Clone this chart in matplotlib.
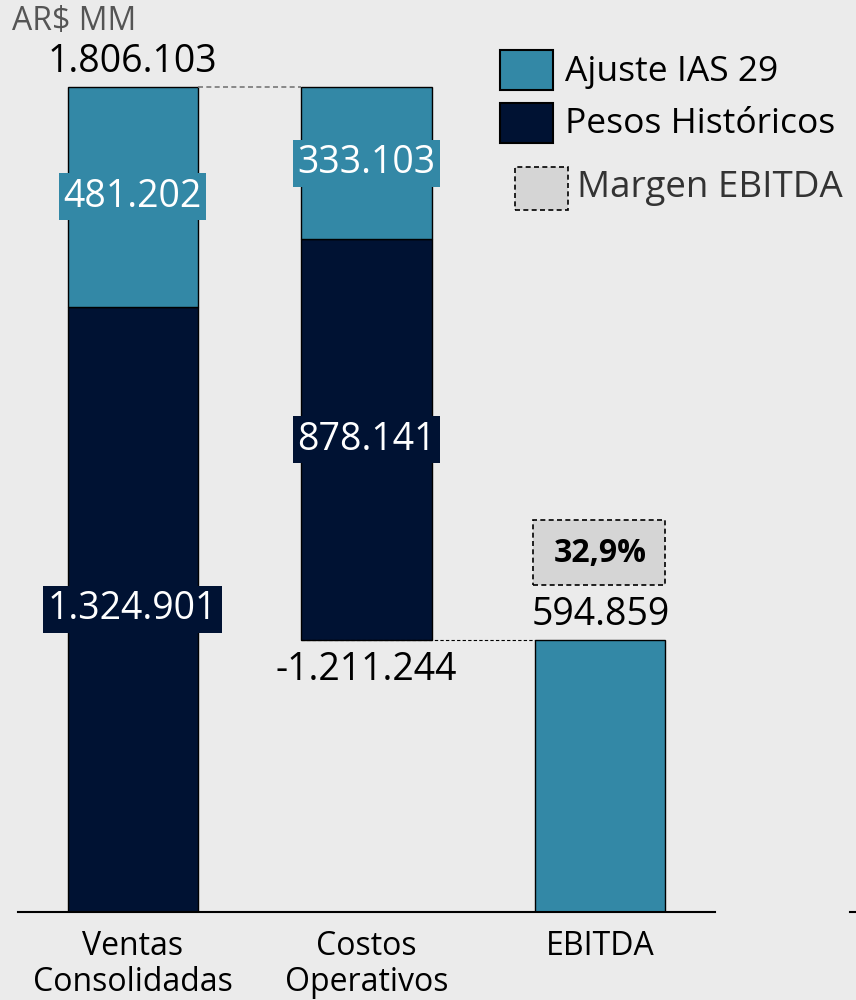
import matplotlib.pyplot as plt
from matplotlib.patches import Rectangle
from matplotlib.lines import Line2D

categorias = ["Ventas\nConsolidadas", "Costos\nOperativos", "EBITDA"]
pesos_historicos = [1324901, 878141, 0]
ajuste_ias29 = [481202, 333103, 594859]
base = [0, 594859, 0]
etiqueta_total = ["1.806.103", "-1.211.244", "594.859"]
etiqueta_hist = ["1.324.901", "878.141", None]
etiqueta_ajuste = ["481.202", "333.103", None]
margen_ebitda = "32,9%"

TEAL = "#3388a6"
NAVY = "#001233"
BG = "#ebebeb"
FONT = ["Open Sans", "DejaVu Sans"]

fig = plt.figure(figsize=(8.56, 10), dpi=100, facecolor=BG)
ax = fig.add_axes([18 / 856, 0.088, (715 - 18) / 856, 0.912])
ax.set_facecolor(BG)

total = pesos_historicos[0] + ajuste_ias29[0]
ax.set_ylim(0, total * 912 / 825)
ax.set_xlim(-0.49, 2.49)
w = 0.556
x = range(len(categorias))

ax.bar(x, pesos_historicos, w, bottom=base, color=NAVY, edgecolor="black", linewidth=1)
bot2 = [b + h for b, h in zip(base, pesos_historicos)]
ax.bar(x, ajuste_ias29, w, bottom=bot2, color=TEAL, edgecolor="black", linewidth=1)

for s in ["top", "right", "left"]:
    ax.spines[s].set_visible(False)
ax.spines["bottom"].set_linewidth(1.5)
ax.set_yticks([])
ax.set_xticks(list(x))
ax.set_xticklabels(categorias, fontsize=23, family=FONT, linespacing=1.1)
ax.tick_params(axis="x", length=0, pad=13)

# connectors
ax.plot([0 + w / 2, 1 - w / 2], [total, total], ls=(0, (3, 2)), color="#777777", lw=1.2)
ax.plot([1 - w / 2, 2 - w / 2], [base[1], base[1]], ls=(0, (3, 2)), color="black", lw=0.8)

px = total / 825  # value per pixel

def lab(xv, yv, txt, fc=None, color="black", **kw):
    bbox = None
    if fc is not None:
        bbox = dict(boxstyle="square,pad=0.12", fc=fc, ec="none")
    ax.text(xv, yv, txt, ha="center", va="center", fontsize=27, family=FONT,
            color=color, bbox=bbox, **kw)

# totals
lab(0, total + 25 * px, etiqueta_total[0])
lab(1, base[1] - 30 * px, etiqueta_total[1])
lab(2, ajuste_ias29[2] + 25 * px, etiqueta_total[2])

# segment labels
lab(0, pesos_historicos[0] + ajuste_ias29[0] * 0.5, etiqueta_ajuste[0], fc=TEAL, color="white")
lab(0, 303 * px, etiqueta_hist[0], fc=NAVY, color="white")
lab(1, total - 76 * px, etiqueta_ajuste[1], fc=TEAL, color="white")
lab(1, base[1] + pesos_historicos[1] * 0.5, etiqueta_hist[1], fc=NAVY, color="white")

# margen box
ax.add_patch(Rectangle((2 - w / 2 - 0.012, ajuste_ias29[2] + 55 * px), w + 0.012, 65 * px,
                       fc="#d5d5d5", ec="black", ls=(0, (3, 2)), lw=1.2))
ax.text(2, ajuste_ias29[2] + 87 * px, margen_ebitda, ha="center", va="center",
        fontsize=23, fontweight="bold", family=FONT)

# unit label
fig.text(12 / 856, 1 - 21 / 1000, "AR$ MM", fontsize=23, color="#555555", family=FONT,
         va="center", ha="left")

# legend (manual)
fig.patches.append(Rectangle((500 / 856, 1 - 90 / 1000), 53 / 856, 40 / 1000,
                             transform=fig.transFigure, fc=TEAL, ec="black", lw=1.5))
fig.patches.append(Rectangle((500 / 856, 1 - 143 / 1000), 53 / 856, 40 / 1000,
                             transform=fig.transFigure, fc=NAVY, ec="black", lw=1.5))
fig.patches.append(Rectangle((515 / 856, 1 - 210 / 1000), 53 / 856, 43 / 1000,
                             transform=fig.transFigure, fc="#d5d5d5", ec="black", lw=1.2,
                             ls=(0, (3, 2))))
fig.text(565 / 856, 1 - 72 / 1000, "Ajuste IAS 29", fontsize=25.5, family=FONT, va="center")
fig.text(565 / 856, 1 - 124 / 1000, "Pesos Históricos", fontsize=25.5, family=FONT, va="center")
fig.text(577 / 856, 1 - 188 / 1000, "Margen EBITDA", fontsize=26.5, family=FONT, va="center",
         color="#333333")

fig.lines.append(Line2D([850 / 856, 1], [0.088, 0.088], transform=fig.transFigure,
                        color="black", lw=1.5))

fig.savefig("out.png", dpi=100, facecolor=BG)
